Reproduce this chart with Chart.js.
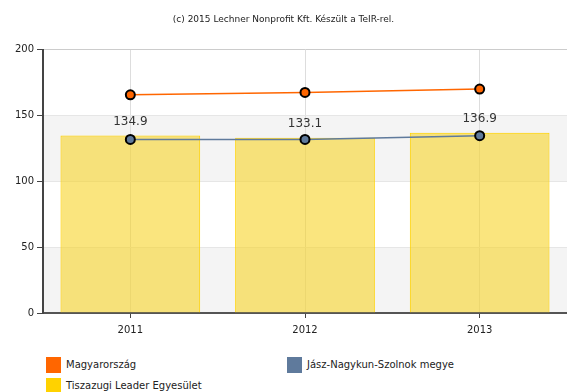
<!DOCTYPE html>
<html lang="hu">
<head>
  <meta charset="UTF-8">
  <title>Lakosságszám változás</title>
  <script src="https://cdn.jsdelivr.net/npm/chart.js"></script>
  <style>
    html, body { margin: 0; padding: 0; background: #fff; overflow: hidden; }
    #wrap { position: relative; width: 567px; height: 392px; font-family: "DejaVu Sans", sans-serif; }
    #chart { position: absolute; left: 0; top: 0; }
    .lg { position: absolute; font-size: 10px; color: #222; line-height: 15px; white-space: nowrap; }
    .lg span { display: inline-block; width: 15px; height: 16px; vertical-align: middle; margin-right: 5px; }
  </style>
</head>
<body>
  <div id="wrap">
    <canvas id="chart" width="567" height="345"></canvas>
    <div id="legend"></div>
  </div>

  <script>
    // Evek es sorozatok
    const years = ['2011', '2012', '2013'];
    const hungary = [165.8, 167.6, 170.2];
    const county = [131.9, 131.9, 134.7];
    const leader = [134.9, 133.1, 136.9];
    const yTicks = [0, 50, 100, 150, 200];

    const names = ['Magyarország', 'Jász-Nagykun-Szolnok megye', 'Tiszazugi Leader Egyesület'];
    const colors = ['#ff6600', '#5f7a9c', '#ffd200'];

    // Alternating grey bands behind the plot area
    const bandPlugin = {
      id: 'bands',
      beforeDraw(chart) {
        const { ctx, chartArea, scales } = chart;
        const y = scales.y;
        ctx.save();
        ctx.fillStyle = '#f4f4f4';
        [[0, 50], [100, 150]].forEach(([a, b]) => {
          const top = y.getPixelForValue(b);
          const bottom = y.getPixelForValue(a);
          ctx.fillRect(chartArea.left, top, chartArea.right - chartArea.left, bottom - top);
        });
        ctx.restore();
      }
    };

    // Value labels over the bars
    const valuePlugin = {
      id: 'values',
      afterDatasetsDraw(chart) {
        const { ctx } = chart;
        const meta = chart.getDatasetMeta(2);
        ctx.save();
        ctx.font = '12px "DejaVu Sans"';
        ctx.fillStyle = '#333';
        ctx.textAlign = 'center';
        ctx.textBaseline = 'middle';
        meta.data.forEach((bar, i) => {
          ctx.fillText(leader[i].toFixed(1), bar.x, bar.y - 14);
        });
        ctx.restore();
      }
    };

    const ctx = document.getElementById('chart').getContext('2d');
    const chart = new Chart(ctx, {
      data: {
        labels: years,
        datasets: [
          {
            type: 'line', label: names[0], data: hungary, order: 1,
            borderColor: colors[0], borderWidth: 1.5, backgroundColor: colors[0],
            pointBackgroundColor: colors[0], pointBorderColor: '#000', pointBorderWidth: 2, pointRadius: 4.5
          },
          {
            type: 'line', label: names[1], data: county, order: 2,
            borderColor: colors[1], borderWidth: 1.5, backgroundColor: colors[1],
            pointBackgroundColor: colors[1], pointBorderColor: '#000', pointBorderWidth: 2, pointRadius: 4.5
          },
          {
            type: 'bar', label: names[2], data: leader, order: 3,
            backgroundColor: 'rgba(247, 212, 40, 0.6)', borderColor: '#ffd200', borderWidth: 1,
            barPercentage: 0.8, categoryPercentage: 1
          }
        ]
      },
      options: {
        responsive: false,
        animation: false,
        layout: { autoPadding: false, padding: { top: 0, right: 0, bottom: 3, left: 0 } },
        plugins: {
          legend: { display: false },
          tooltip: { enabled: false },
          title: {
            display: true,
            text: '(c) 2015 Lechner Nonprofit Kft. Készült a TeIR-rel.',
            color: '#222',
            font: { family: 'DejaVu Sans', size: 9, weight: 'normal' },
            padding: { top: 14, bottom: 25 }
          }
        },
        scales: {
          x: {
            offset: true,
            grid: { offset: false, color: '#dddddd', tickColor: '#444', tickLength: 5, drawOnChartArea: true },
            border: { color: '#555', width: 2 },
            ticks: { color: '#222', font: { family: 'DejaVu Sans', size: 10 }, padding: 6 }
          },
          y: {
            min: 0, max: 200,
            afterBuildTicks(axis) { axis.ticks = yTicks.map(v => ({ value: v })); },
            afterFit(axis) { axis.width = 43; },
            grid: { color: (c) => c.tick.value === 200 ? '#cccccc' : '#e6e6e6', tickColor: '#444', tickLength: 6 },
            border: { color: '#444', width: 2 },
            ticks: { color: '#222', font: { family: 'DejaVu Sans', size: 10 }, padding: 3 }
          }
        }
      },
      plugins: [bandPlugin, valuePlugin]
    });

    // Legend in two columns below the chart
    const legend = document.getElementById('legend');
    const spots = [[46, 357], [287, 357], [46, 378]];
    names.forEach((n, i) => {
      const d = document.createElement('div');
      d.className = 'lg';
      d.style.left = spots[i][0] + 'px';
      d.style.top = spots[i][1] + 'px';
      d.innerHTML = `<span style="background:${colors[i]}"></span>${n}`;
      legend.appendChild(d);
    });
  </script>
</body>
</html>
